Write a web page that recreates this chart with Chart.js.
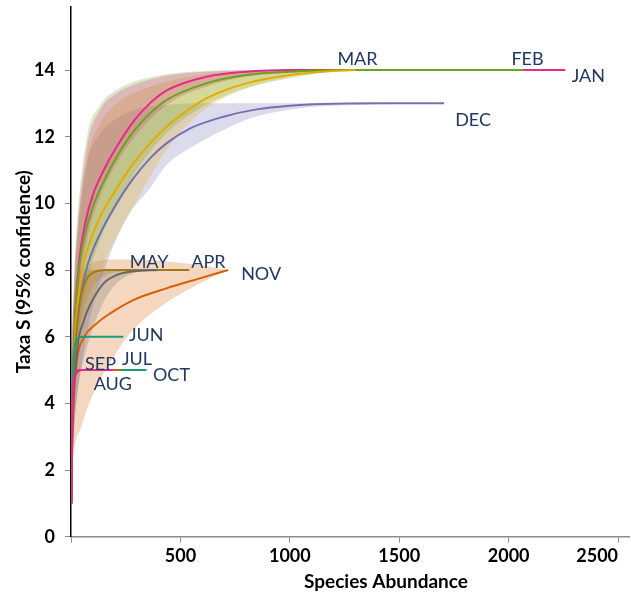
<!DOCTYPE html>
<html>
<head>
<meta charset="utf-8">
<script src="https://cdn.jsdelivr.net/npm/chart.js@4/dist/chart.umd.min.js"></script>
<style>
  html, body { margin: 0; padding: 0; background: #ffffff; }
  #c { display: block; }
</style>
</head>
<body>
<canvas id="c" width="631" height="596"></canvas>
<script>
// Rarefaction curves: [abundance, taxa S]
const JAN = [[1,1],[5,3.6],[15,6.0],[35,8.1],[65,9.4],[100,10.25],[150,11.0],[200,11.6],[285,12.45],[360,13.0],[440,13.4],[620,13.8],[800,13.95],[1000,14],[2259,14]];
const FEB = [[1,1],[5,3.5],[15,5.9],[35,7.9],[65,9.1],[103,9.95],[164,10.85],[209,11.4],[285,12.15],[361,12.7],[436,13.1],[618,13.6],[800,13.85],[1000,13.95],[1250,14],[2068,14]];
const MAR = [[1,1],[5,3.2],[15,5.5],[50,7.9],[90,8.9],[133,9.6],[209,10.45],[285,11.2],[361,11.8],[436,12.3],[545,12.85],[618,13.15],[800,13.6],[1000,13.85],[1150,13.95],[1300,14]];
const APR = [[1,1],[5,3.6],[12,5.0],[20,5.8],[27,6.3],[35,6.85],[50,7.35],[73,7.75],[100,7.92],[164,8],[541,8]];
const MAY = [[1,1],[5,2.8],[12,4.2],[20,5.0],[35,5.95],[57,6.45],[73,6.75],[103,7.15],[149,7.6],[209,7.85],[285,7.96],[398,8]];
const JUN = [[1,1],[4,3.0],[8,4.5],[14,5.4],[20,5.8],[35,5.97],[60,6],[239,6]];
const JUL = [[1,1],[3,2.4],[6,3.6],[10,4.3],[15,4.7],[25,4.9],[45,5],[224,5]];
const AUG = [[1,1],[3,2.5],[6,3.7],[10,4.4],[15,4.75],[25,4.93],[40,5],[150,5]];
const SEP = [[1,1],[3,2.6],[6,3.8],[10,4.5],[15,4.8],[25,4.95],[40,5],[194,5]];
const OCT = [[1,1],[3,2.5],[6,3.7],[10,4.4],[15,4.75],[25,4.95],[45,5],[345,5]];
const NOV = [[1,1],[5,2.6],[12,4.0],[27,5.3],[57,5.95],[118,6.4],[179,6.7],[285,7.1],[436,7.45],[588,7.75],[718,8]];
const DEC = [[1,1],[5,3.1],[15,5.2],[40,7.0],[65,7.9],[100,8.6],[149,9.3],[209,10.0],[285,10.75],[361,11.35],[436,11.8],[545,12.25],[697,12.6],[848,12.82],[1000,12.93],[1151,12.98],[1400,13],[1705,13]];

// 95% confidence limits
const JAN_HI = [[1,1],[5,5.0],[15,7.6],[27,9.0],[73,11.7],[133,12.8],[209,13.3],[285,13.55],[436,13.83],[618,13.95],[900,14],[2259,14]];
const JAN_LO = [[1,1],[5,2.8],[15,5.0],[35,7.2],[73,8.9],[133,10.2],[209,11.2],[285,11.95],[436,12.95],[618,13.5],[800,13.8],[1000,13.92],[1300,14],[2259,14]];
const FEB_HI = [[1,1],[5,5.2],[15,7.9],[27,9.35],[73,12.0],[133,12.95],[209,13.4],[285,13.64],[436,13.87],[618,13.97],[900,14],[2068,14]];
const FEB_LO = [[1,1],[5,2.3],[15,4.1],[35,6.0],[73,7.6],[133,8.9],[209,9.95],[285,10.85],[436,12.1],[618,12.95],[800,13.45],[1000,13.75],[1300,14],[2068,14]];
const MAR_HI = [[1,1],[5,5.0],[15,7.4],[30,8.9],[73,11.3],[133,12.4],[209,13.0],[285,13.3],[436,13.65],[618,13.88],[800,13.97],[1000,14],[1300,14]];
const MAR_LO = [[1,1],[5,2.1],[15,3.7],[50,5.9],[90,7.0],[133,7.9],[209,9.0],[285,9.9],[361,10.8],[436,11.6],[545,12.45],[697,13.15],[848,13.55],[1000,13.8],[1150,13.95],[1300,14]];
const APR_HI = [[1,1],[5,4.8],[10,6.2],[20,7.5],[35,8.0],[60,8.05],[100,8.02],[541,8]];
const APR_LO = [[1,1],[5,2.6],[10,3.8],[20,4.8],[35,5.8],[50,6.5],[73,7.1],[100,7.5],[164,7.85],[250,7.97],[541,8]];
const MAY_HI = [[1,1],[5,4.0],[12,5.6],[20,6.6],[35,7.4],[57,7.8],[103,7.98],[398,8]];
const MAY_LO = [[1,1],[5,1.9],[12,3.0],[20,3.7],[35,4.6],[57,5.3],[103,6.3],[149,7.05],[209,7.6],[285,7.9],[398,8]];
const NOV_HI = [[1,1],[5,4.0],[12,5.6],[25,6.8],[45,7.6],[80,8.1],[130,8.28],[250,8.32],[400,8.28],[550,8.18],[718,8]];
const NOV_LO = [[1,1],[5,1.8],[20,2.8],[42,3.2],[80,3.95],[118,4.5],[150,4.9],[270,6.1],[409,6.9],[560,7.5],[718,8]];
const DEC_HI = [[1,1],[5,5.0],[15,7.5],[27,8.9],[73,11.2],[133,12.1],[209,12.55],[285,12.8],[436,12.95],[618,13],[1705,13]];
const DEC_LO = [[1,1],[5,2.0],[15,3.3],[50,5.2],[100,6.9],[166,8.25],[258,9.6],[361,10.45],[436,11.15],[545,11.66],[697,12.2],[848,12.61],[1000,12.81],[1151,12.91],[1454,12.97],[1705,13]];

const X_TICKS = [0, 500, 1000, 1500, 2000, 2500];
const Y_TICKS = [0, 2, 4, 6, 8, 10, 12, 14];

const PALETTE = {
  pink: '#e7298a', green: '#66a61e', yellow: '#e6ab02', brown: '#a6761d',
  gray: '#666666', teal: '#1b9e77', orange: '#d95f02', purple: '#7570b3'
};

// month name, curve, colour, stacking order (lower = on top)
const series = [
  ['SEP', SEP, PALETTE.pink, 0],
  ['AUG', AUG, PALETTE.pink, 0],
  ['JUL', JUL, PALETTE.orange, 1],
  ['OCT', OCT, PALETTE.teal, 2],
  ['JUN', JUN, PALETTE.teal, 1],
  ['MAY', MAY, PALETTE.gray, 1],
  ['APR', APR, PALETTE.brown, 2],
  ['NOV', NOV, PALETTE.orange, 2],
  ['MAR', MAR, PALETTE.yellow, 2],
  ['FEB', FEB, PALETTE.green, 3],
  ['JAN', JAN, PALETTE.pink, 4],
  ['DEC', DEC, PALETTE.purple, 3]
];

const bands = [
  [JAN_HI, JAN_LO, PALETTE.pink],
  [FEB_HI, FEB_LO, PALETTE.green],
  [MAR_HI, MAR_LO, PALETTE.yellow],
  [DEC_HI, DEC_LO, PALETTE.purple],
  [APR_HI, APR_LO, PALETTE.brown],
  [MAY_HI, MAY_LO, PALETTE.gray],
  [NOV_HI, NOV_LO, PALETTE.orange]
];

// label placement relative to each curve's end point (pixels)
const labelOffset = {
  JAN: [23, 5], FEB: [4, -12], MAR: [2, -12], APR: [19, -9], MAY: [-9, -9],
  JUN: [23, -2], JUL: [17, -12], AUG: [9, 13], SEP: [-13, -7], OCT: [25, 4],
  NOV: [33, 3], DEC: [29, 16]
};

const toXY = arr => arr.map(p => ({ x: p[0], y: p[1] }));

function withAlpha(hex, a) {
  const n = parseInt(hex.slice(1), 16);
  return `rgba(${(n >> 16) & 255},${(n >> 8) & 255},${n & 255},${a})`;
}

const datasets = [];
series.forEach(([name, curve, color, ord]) => {
  datasets.push({
    label: name,
    data: toXY(curve),
    borderColor: color,
    borderWidth: 2,
    pointRadius: 0,
    fill: false,
    cubicInterpolationMode: 'monotone',
    order: ord
  });
});
bands.forEach(([hi, lo, color]) => {
  datasets.push({
    label: 'band',
    data: toXY(hi),
    borderWidth: 0,
    borderColor: 'rgba(0,0,0,0)',
    backgroundColor: withAlpha(color, 0.25),
    pointRadius: 0,
    fill: '+1',
    cubicInterpolationMode: 'monotone',
    order: 10
  });
  datasets.push({
    label: 'band',
    data: toXY(lo),
    borderWidth: 0,
    borderColor: 'rgba(0,0,0,0)',
    pointRadius: 0,
    fill: false,
    cubicInterpolationMode: 'monotone',
    order: 10
  });
});

const FONT = 'Lato, "Open Sans", sans-serif';

const monthLabels = {
  id: 'monthLabels',
  afterDatasetsDraw(chart) {
    const { ctx, scales } = chart;
    ctx.save();
    ctx.font = `18px ${FONT}`;
    ctx.fillStyle = '#1f3864';
    ctx.textAlign = 'center';
    ctx.textBaseline = 'alphabetic';
    series.forEach(([name, curve]) => {
      const end = curve[curve.length - 1];
      const px = scales.x.getPixelForValue(end[0]);
      const py = scales.y.getPixelForValue(end[1]);
      const [dx, dy] = labelOffset[name];
      ctx.fillText(name, px + dx, py + dy + 6.5);
    });
    ctx.restore();
  }
};

const axisTitles = {
  id: 'axisTitles',
  afterDraw(chart) {
    const { ctx, chartArea } = chart;
    ctx.save();
    ctx.font = `bold 19px ${FONT}`;
    ctx.fillStyle = '#000000';
    ctx.textAlign = 'center';
    ctx.textBaseline = 'middle';
    ctx.fillText('Species Abundance', 386, 582);
    ctx.translate(24, (chartArea.top + chartArea.bottom) / 2);
    ctx.rotate(-Math.PI / 2);
    ctx.fillText('Taxa S (95% confidence)', 0, 0);
    ctx.restore();
  }
};

new Chart(document.getElementById('c'), {
  type: 'line',
  data: { datasets },
  plugins: [monthLabels, axisTitles],
  options: {
    responsive: false,
    animation: false,
    events: [],
    layout: { padding: { top: 6.7, right: 2, left: 0, bottom: 0 } },
    plugins: { legend: { display: false }, tooltip: { enabled: false } },
    scales: {
      x: {
        type: 'linear',
        min: 0,
        max: 2550,
        afterBuildTicks: s => { s.ticks = X_TICKS.map(v => ({ value: v })); },
        afterFit: s => { s.height = 59.3; s.paddingLeft = 0; s.paddingRight = 0; },
        ticks: {
          autoSkip: false,
          maxRotation: 0,
          align: 'inner',
          padding: 3,
          color: '#000000',
          font: { family: FONT, size: 18, weight: 'bold' },
          callback: v => (v === 0 ? '' : String(v))
        },
        grid: { drawOnChartArea: false, drawTicks: true, tickLength: 6, color: '#8c8c8c' },
        border: { display: true, color: '#8c8c8c', width: 1.5 }
      },
      y: {
        type: 'linear',
        min: 0,
        max: 15.9,
        afterBuildTicks: s => { s.ticks = Y_TICKS.map(v => ({ value: v })); },
        afterFit: s => { s.width = 71; s.paddingTop = 0; s.paddingBottom = 0; },
        ticks: {
          autoSkip: false,
          padding: 10,
          color: '#000000',
          font: { family: FONT, size: 18, weight: 'bold' },
          callback: v => String(v)
        },
        grid: { drawOnChartArea: false, drawTicks: true, tickLength: 6, color: '#8c8c8c' },
        border: { display: true, color: '#000000', width: 1.5 }
      }
    }
  }
});
</script>
</body>
</html>
